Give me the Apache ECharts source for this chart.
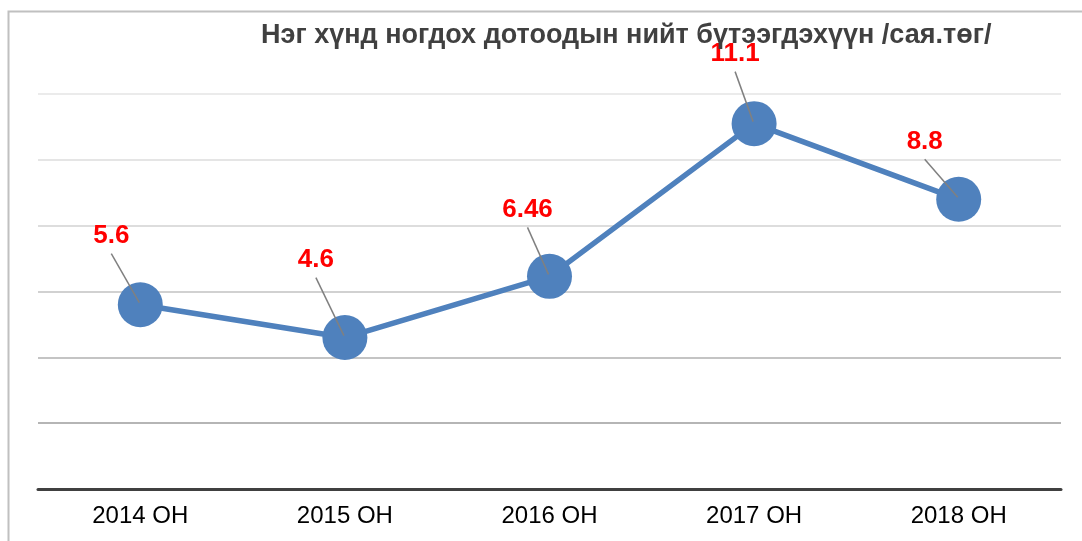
<!DOCTYPE html>
<html>
<head>
<meta charset="utf-8" />
<title>Нэг хүнд ногдох ДНБ</title>
<style>
  html, body { margin: 0; padding: 0; background: #fff; }
  #chart { width: 1082px; height: 541px; }
</style>
</head>
<body>
<div id="chart"></div>
<script src="https://cdn.jsdelivr.net/npm/echarts@6/dist/echarts.min.js"></script>
<script>
// data
var years = ['2014 ОН', '2015 ОН', '2016 ОН', '2017 ОН', '2018 ОН'];
var gdpPerCapita = [5.6, 4.6, 6.46, 11.1, 8.8];
var titleText = 'Нэг хүнд ногдох дотоодын нийт бүтээгдэхүүн /сая.төг/';

// label offsets from point (pixels)
var labelShift = [[-29, -69], [-29, -78], [-22, -67], [-19, -70], [-34, -58]];

var font = 'Liberation Sans, Arial, sans-serif';
var chart = echarts.init(document.getElementById('chart'));
chart.setOption({
  animation: false,
  backgroundColor: '#fff',
  textStyle: { fontFamily: font },
  title: {
    text: titleText,
    left: 256,
    top: 17,
    textStyle: { fontSize: 27, fontWeight: 'bold', color: '#404040', fontFamily: font }
  },
  graphic: [{
    type: 'rect',
    shape: { x: 8.5, y: 11.5, width: 1200, height: 700 },
    style: { fill: 'none', stroke: '#c0c0c0', lineWidth: 2 },
    silent: true,
    z: -1
  }],
  grid: { left: 38, right: 21, top: 94, bottom: 52 },
  xAxis: {
    type: 'category',
    data: years,
    axisLine: { lineStyle: { color: '#404040', width: 3 } },
    axisTick: { show: false },
    axisLabel: { color: '#000', fontSize: 24, margin: 15 }
  },
  yAxis: {
    type: 'value',
    min: 0,
    max: 12,
    interval: 2,
    axisLabel: { show: false },
    axisLine: { show: false },
    axisTick: { show: false },
    splitLine: {
      lineStyle: { color: ['#404040', '#9c9c9c', '#b0b0b0', '#c2c2c2', '#d2d2d2', '#dcdcdc', '#e4e4e4'], width: 1.5 }
    }
  },
  series: [{
    type: 'line',
    data: gdpPerCapita,
    symbol: 'circle',
    symbolSize: 45,
    z: 2,
    itemStyle: { color: '#4f81bd' },
    lineStyle: { color: '#4f81bd', width: 5.5 },
    label: {
      show: true,
      position: 'inside',
      color: '#ff0000',
      fontSize: 26,
      fontWeight: 'bold',
      fontFamily: font
    },
    labelLayout: function (p) {
      var s = labelShift[p.dataIndex];
      return { dx: s[0], dy: s[1] };
    }
  }, {
    // leader lines from label to point
    type: 'custom',
    z: 3,
    silent: true,
    data: gdpPerCapita.map(function (v, i) { return [i, v]; }),
    renderItem: function (params, api) {
      var p = api.coord([api.value(0), api.value(1)]);
      var s = labelShift[params.dataIndex];
      return {
        type: 'line',
        shape: { x1: p[0] + s[0], y1: p[1] + s[1] + 18, x2: p[0] - 1, y2: p[1] - 2 },
        style: { stroke: '#808080', lineWidth: 1.5 }
      };
    }
  }]
});
</script>
</body>
</html>
